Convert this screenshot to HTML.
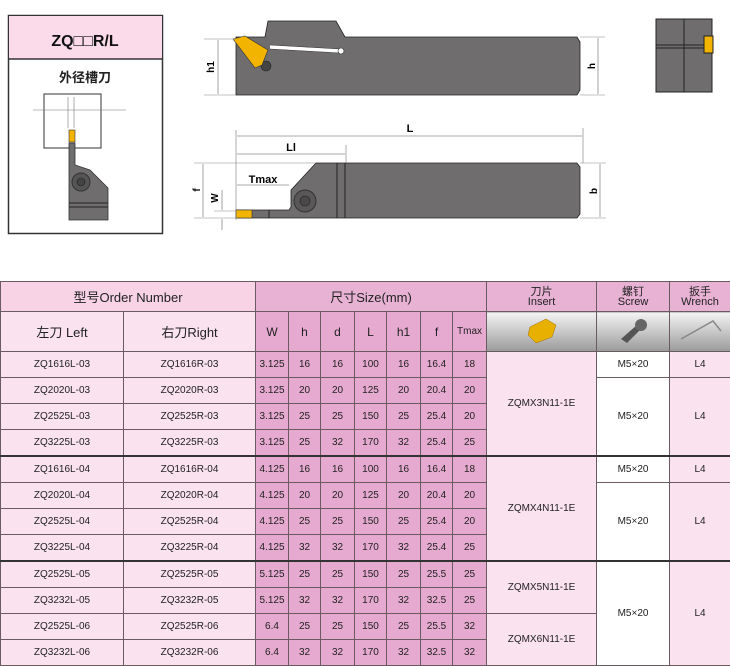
<!DOCTYPE html>
<html><head><meta charset="utf-8"><style>
body{margin:0;width:730px;height:666px;background:#fff;position:relative;overflow:hidden;font-family:"Liberation Sans","Noto Sans CJK SC",sans-serif}
svg{position:absolute;left:0;top:0}
table{position:absolute;left:0;top:281px;border-collapse:collapse;table-layout:fixed;width:730px;font-size:10px;color:#222}
td{border:1px solid #6a5a62;text-align:center;padding:0;height:25px;background:#fbe2ef}
td.s{background:#e6aad0}
td.w{background:#fff}
tr.h1 td{height:29px;font-size:13px;background:#f8d3e6}
tr.h1 td.s{background:#e8b2d4}
tr.h1 td.sm{font-size:11px;line-height:10px;background:#e8b2d4}
tr.h2 td{height:39px;font-size:13px}
tr.h2 td.s{font-size:12px}
tr.h2 td.ic{background:linear-gradient(#f4f4f4,#9a9a9a)}
tr.sep td{border-top:2px solid #333}
</style></head><body>
<svg width="730" height="280" viewBox="0 0 730 280">
<rect x="8.5" y="15.5" width="154" height="218" fill="#fff" stroke="#333" stroke-width="1.5"/>
<rect x="9" y="16" width="153" height="43" fill="#fbdbe9"/>
<line x1="8" y1="59" x2="163" y2="59" stroke="#333" stroke-width="1.5"/>
<text x="85" y="46" font-size="16" font-weight="bold" text-anchor="middle" fill="#111">ZQ□□R/L</text>
<text x="85" y="82" font-size="13" font-weight="bold" text-anchor="middle" fill="#222">外径槽刀</text>
<rect x="44" y="94" width="57" height="54" fill="#fff" stroke="#333"/>
<line x1="33" y1="110" x2="126" y2="110" stroke="#777" stroke-width="0.6"/>
<line x1="68" y1="97" x2="68" y2="128" stroke="#777" stroke-width="0.6"/>
<line x1="74" y1="97" x2="74" y2="128" stroke="#777" stroke-width="0.6"/>
<rect x="69" y="130" width="6" height="12" fill="#f3b400" stroke="#333" stroke-width="0.6"/>
<path d="M69 143 H75 V165 L90 170 L108 188 V220 H69 Z" fill="#6f6d6e" stroke="#333" stroke-width="0.8"/>
<line x1="69" y1="203" x2="108" y2="203" stroke="#222"/><line x1="69" y1="207" x2="108" y2="207" stroke="#222"/>
<circle cx="81" cy="182" r="9" fill="#555" stroke="#333"/><circle cx="81" cy="182" r="4" fill="#444" stroke="#222" stroke-width="0.6"/>
<path d="M236 37 H265 L268 21 H336 L345 37 H577 L580 42 V90 L577 95 H236 Z" fill="#6f6d6e" stroke="#222" stroke-width="0.8"/>
<path d="M270 45 L340 49 Q344 52 340 53 L270 49" fill="#fff" stroke="#333" stroke-width="0.5"/>
<circle cx="341" cy="51" r="3" fill="#fff" stroke="#333" stroke-width="0.6"/>
<circle cx="266" cy="66" r="5" fill="#444" stroke="#222" stroke-width="0.6"/>
<path d="M233 39 L245 36 L268 50 L262 65 L255 68 Z" fill="#f3b400" stroke="#333" stroke-width="0.6"/>
<line x1="204" y1="39" x2="236" y2="39" stroke="#888" stroke-width="0.6"/><line x1="204" y1="95" x2="236" y2="95" stroke="#888" stroke-width="0.6"/>
<line x1="218" y1="40" x2="218" y2="94" stroke="#666" stroke-width="0.6"/>
<text x="214" y="67" font-size="10" font-weight="bold" transform="rotate(-90 214 67)" text-anchor="middle">h1</text>
<line x1="580" y1="37" x2="605" y2="37" stroke="#888" stroke-width="0.6"/><line x1="580" y1="95" x2="605" y2="95" stroke="#888" stroke-width="0.6"/>
<line x1="598" y1="38" x2="598" y2="94" stroke="#666" stroke-width="0.6"/>
<text x="595" y="66" font-size="10" font-weight="bold" transform="rotate(-90 595 66)" text-anchor="middle">h</text>
<rect x="656" y="19" width="56" height="73" fill="#6f6d6e" stroke="#222"/>
<line x1="684" y1="19" x2="684" y2="92" stroke="#222"/>
<line x1="656" y1="45" x2="705" y2="45" stroke="#222"/><line x1="656" y1="48" x2="705" y2="48" stroke="#222"/>
<rect x="704" y="36" width="9" height="17" fill="#f3b400" stroke="#222"/>
<path d="M316 163 H577 L580 167 V214 L577 218 H236 V210 H289 L291 207 V190 Z" fill="#6f6d6e" stroke="#222" stroke-width="0.8"/>
<line x1="337" y1="163" x2="337" y2="218" stroke="#222"/><line x1="345" y1="163" x2="345" y2="218" stroke="#222"/>
<line x1="269" y1="210" x2="269" y2="218" stroke="#222"/>
<circle cx="305" cy="201" r="11" fill="#595758" stroke="#333"/><circle cx="305" cy="201" r="5" fill="#4a4849" stroke="#222" stroke-width="0.6"/>
<rect x="236" y="210" width="16" height="8" fill="#f3b400" stroke="#333" stroke-width="0.6"/>
<line x1="236" y1="130" x2="236" y2="220" stroke="#777" stroke-width="0.6"/>
<line x1="583" y1="128" x2="583" y2="163" stroke="#777" stroke-width="0.6"/>
<line x1="237" y1="136" x2="582" y2="136" stroke="#555" stroke-width="0.6"/>
<text x="410" y="132" font-size="11" font-weight="bold" text-anchor="middle">L</text>
<line x1="346" y1="145" x2="346" y2="163" stroke="#777" stroke-width="0.6"/>
<line x1="237" y1="154" x2="345" y2="154" stroke="#555" stroke-width="0.6"/>
<text x="291" y="151" font-size="11" font-weight="bold" text-anchor="middle">Ll</text>
<line x1="237" y1="185" x2="289" y2="185" stroke="#555" stroke-width="0.6"/>
<text x="263" y="183" font-size="11" font-weight="bold" text-anchor="middle">Tmax</text>
<line x1="194" y1="163" x2="316" y2="163" stroke="#888" stroke-width="0.6"/>
<line x1="194" y1="218" x2="236" y2="218" stroke="#888" stroke-width="0.6"/>
<line x1="214" y1="211" x2="236" y2="211" stroke="#888" stroke-width="0.6"/>
<line x1="203" y1="164" x2="203" y2="217" stroke="#666" stroke-width="0.6"/>
<text x="200" y="190" font-size="10" font-weight="bold" transform="rotate(-90 200 190)" text-anchor="middle">f</text>
<line x1="222" y1="190" x2="222" y2="210" stroke="#666" stroke-width="0.6"/>
<line x1="222" y1="219" x2="222" y2="230" stroke="#666" stroke-width="0.6"/>
<text x="218" y="198" font-size="10" font-weight="bold" transform="rotate(-90 218 198)" text-anchor="middle">W</text>
<line x1="580" y1="163" x2="606" y2="163" stroke="#888" stroke-width="0.6"/><line x1="580" y1="218" x2="606" y2="218" stroke="#888" stroke-width="0.6"/>
<line x1="600" y1="164" x2="600" y2="217" stroke="#666" stroke-width="0.6"/>
<text x="597" y="191" font-size="10" font-weight="bold" transform="rotate(-90 597 191)" text-anchor="middle">b</text>
</svg>
<table>
<colgroup><col style="width:123px"><col style="width:132px"><col style="width:33px"><col style="width:32px"><col style="width:34px"><col style="width:32px"><col style="width:34px"><col style="width:32px"><col style="width:34px"><col style="width:110px"><col style="width:73px"><col style="width:61px"></colgroup>
<tr class="h1"><td colspan="2">型号Order Number</td><td class="s" colspan="7">尺寸Size(mm)</td><td class="sm">刀片<br>Insert</td><td class="sm">螺钉<br>Screw</td><td class="sm">扳手<br>Wrench</td></tr>
<tr class="h2"><td>左刀 Left</td><td>右刀Right</td><td class="s">W</td><td class="s">h</td><td class="s">d</td><td class="s">L</td><td class="s">h1</td><td class="s">f</td><td class="s" style="font-size:10px">Tmax</td>
<td class="ic"><svg width="40" height="30" style="position:static"><path d="M8 12 L24 4 L34 10 L30 22 L14 28 L6 20 Z" fill="#e8b000" stroke="#a07000" stroke-width="0.5"/></svg></td>
<td class="ic"><svg width="40" height="30" style="position:static"><path d="M8 24 L24 10 L28 14 L14 28 Z" fill="#555"/><circle cx="28" cy="10" r="6" fill="#666"/></svg></td>
<td class="ic"><svg width="50" height="30" style="position:static"><path d="M6 24 L38 6 L46 16" fill="none" stroke="#888" stroke-width="1.5"/></svg></td></tr>
<tr><td>ZQ1616L-03</td><td>ZQ1616R-03</td><td class="s">3.125</td><td class="s">16</td><td class="s">16</td><td class="s">100</td><td class="s">16</td><td class="s">16.4</td><td class="s">18</td><td rowspan="4">ZQMX3N11-1E</td><td class="w">M5×20</td><td>L4</td></tr>
<tr><td>ZQ2020L-03</td><td>ZQ2020R-03</td><td class="s">3.125</td><td class="s">20</td><td class="s">20</td><td class="s">125</td><td class="s">20</td><td class="s">20.4</td><td class="s">20</td><td class="w" rowspan="3">M5×20</td><td rowspan="3">L4</td></tr>
<tr><td>ZQ2525L-03</td><td>ZQ2525R-03</td><td class="s">3.125</td><td class="s">25</td><td class="s">25</td><td class="s">150</td><td class="s">25</td><td class="s">25.4</td><td class="s">20</td></tr>
<tr><td>ZQ3225L-03</td><td>ZQ3225R-03</td><td class="s">3.125</td><td class="s">25</td><td class="s">32</td><td class="s">170</td><td class="s">32</td><td class="s">25.4</td><td class="s">25</td></tr>
<tr class="sep"><td>ZQ1616L-04</td><td>ZQ1616R-04</td><td class="s">4.125</td><td class="s">16</td><td class="s">16</td><td class="s">100</td><td class="s">16</td><td class="s">16.4</td><td class="s">18</td><td rowspan="4">ZQMX4N11-1E</td><td class="w">M5×20</td><td>L4</td></tr>
<tr><td>ZQ2020L-04</td><td>ZQ2020R-04</td><td class="s">4.125</td><td class="s">20</td><td class="s">20</td><td class="s">125</td><td class="s">20</td><td class="s">20.4</td><td class="s">20</td><td class="w" rowspan="3">M5×20</td><td rowspan="3">L4</td></tr>
<tr><td>ZQ2525L-04</td><td>ZQ2525R-04</td><td class="s">4.125</td><td class="s">25</td><td class="s">25</td><td class="s">150</td><td class="s">25</td><td class="s">25.4</td><td class="s">20</td></tr>
<tr><td>ZQ3225L-04</td><td>ZQ3225R-04</td><td class="s">4.125</td><td class="s">32</td><td class="s">32</td><td class="s">170</td><td class="s">32</td><td class="s">25.4</td><td class="s">25</td></tr>
<tr class="sep"><td>ZQ2525L-05</td><td>ZQ2525R-05</td><td class="s">5.125</td><td class="s">25</td><td class="s">25</td><td class="s">150</td><td class="s">25</td><td class="s">25.5</td><td class="s">25</td><td rowspan="2">ZQMX5N11-1E</td><td class="w" rowspan="4">M5×20</td><td rowspan="4">L4</td></tr>
<tr><td>ZQ3232L-05</td><td>ZQ3232R-05</td><td class="s">5.125</td><td class="s">32</td><td class="s">32</td><td class="s">170</td><td class="s">32</td><td class="s">32.5</td><td class="s">25</td></tr>
<tr><td>ZQ2525L-06</td><td>ZQ2525R-06</td><td class="s">6.4</td><td class="s">25</td><td class="s">25</td><td class="s">150</td><td class="s">25</td><td class="s">25.5</td><td class="s">32</td><td rowspan="2">ZQMX6N11-1E</td></tr>
<tr><td>ZQ3232L-06</td><td>ZQ3232R-06</td><td class="s">6.4</td><td class="s">32</td><td class="s">32</td><td class="s">170</td><td class="s">32</td><td class="s">32.5</td><td class="s">32</td></tr>
</table>
</body></html>
